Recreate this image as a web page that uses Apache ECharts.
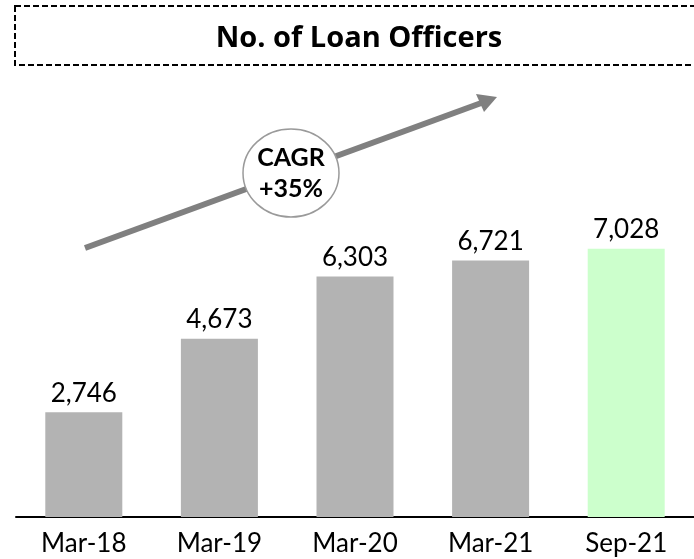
<!DOCTYPE html>
<html>
<head>
<meta charset="utf-8">
<script src="https://cdn.jsdelivr.net/npm/echarts@6/dist/echarts.min.js"></script>
<style>
  html, body { margin: 0; padding: 0; background: #fff; }
  #chart { width: 694px; height: 559px; }
</style>
</head>
<body>
<div id="chart"></div>
<script>
const categories = ['Mar-18', 'Mar-19', 'Mar-20', 'Mar-21', 'Sep-21'];
const officers = [2746, 4673, 6303, 6721, 7028];
const barColors = ['#b3b3b3', '#b3b3b3', '#b3b3b3', '#b3b3b3', '#ccffcc'];
const cagrText = 'CAGR\n+35%';

const chart = echarts.init(document.getElementById('chart'));

chart.setOption({
  animation: false,
  textStyle: { fontFamily: 'Lato' },
  grid: { left: 16, top: 59, width: 688, height: 458 },
  xAxis: {
    type: 'category',
    data: categories,
    axisLine: { lineStyle: { color: '#000', width: 2 } },
    axisTick: { show: false },
    axisLabel: { color: '#000', fontSize: 26, margin: 14 }
  },
  yAxis: {
    type: 'value',
    min: 0,
    max: 12000,
    show: false,
    splitLine: { show: false }
  },
  series: [{
    type: 'bar',
    barWidth: 77,
    data: officers.map((v, i) => ({ value: v, itemStyle: { color: barColors[i] } })),
    label: {
      show: true,
      position: 'top',
      distance: 6,
      color: '#000',
      fontSize: 26,
      formatter: p => p.value.toLocaleString('en-US')
    }
  }],
  graphic: [
    {
      type: 'rect',
      shape: { x: 15, y: 6, width: 700, height: 59 },
      style: { fill: 'none', stroke: '#000', lineWidth: 2, lineDash: [6, 3] }
    },
    {
      type: 'text',
      x: 359, y: 39,
      style: {
        text: 'No. of Loan Officers',
        fontFamily: 'Open Sans',
        fontWeight: 'bold',
        fontSize: 29,
        fill: '#000',
        align: 'center',
        verticalAlign: 'middle'
      }
    },
    {
      type: 'line',
      shape: { x1: 85, y1: 248, x2: 484, y2: 102 },
      style: { stroke: '#808080', lineWidth: 6 }
    },
    {
      type: 'polygon',
      shape: { points: [[497, 97], [476, 94], [484, 112]] },
      style: { fill: '#808080' }
    },
    {
      type: 'ellipse',
      shape: { cx: 291, cy: 173, rx: 48, ry: 44 },
      style: { fill: '#fff', stroke: '#9a9a9a', lineWidth: 1.5 }
    },
    {
      type: 'text',
      x: 291, y: 173,
      style: {
        text: cagrText,
        fontFamily: 'Lato',
        fontWeight: 'bold',
        fontSize: 25,
        lineHeight: 31,
        fill: '#000',
        align: 'center',
        verticalAlign: 'middle'
      }
    }
  ]
});
</script>
</body>
</html>
